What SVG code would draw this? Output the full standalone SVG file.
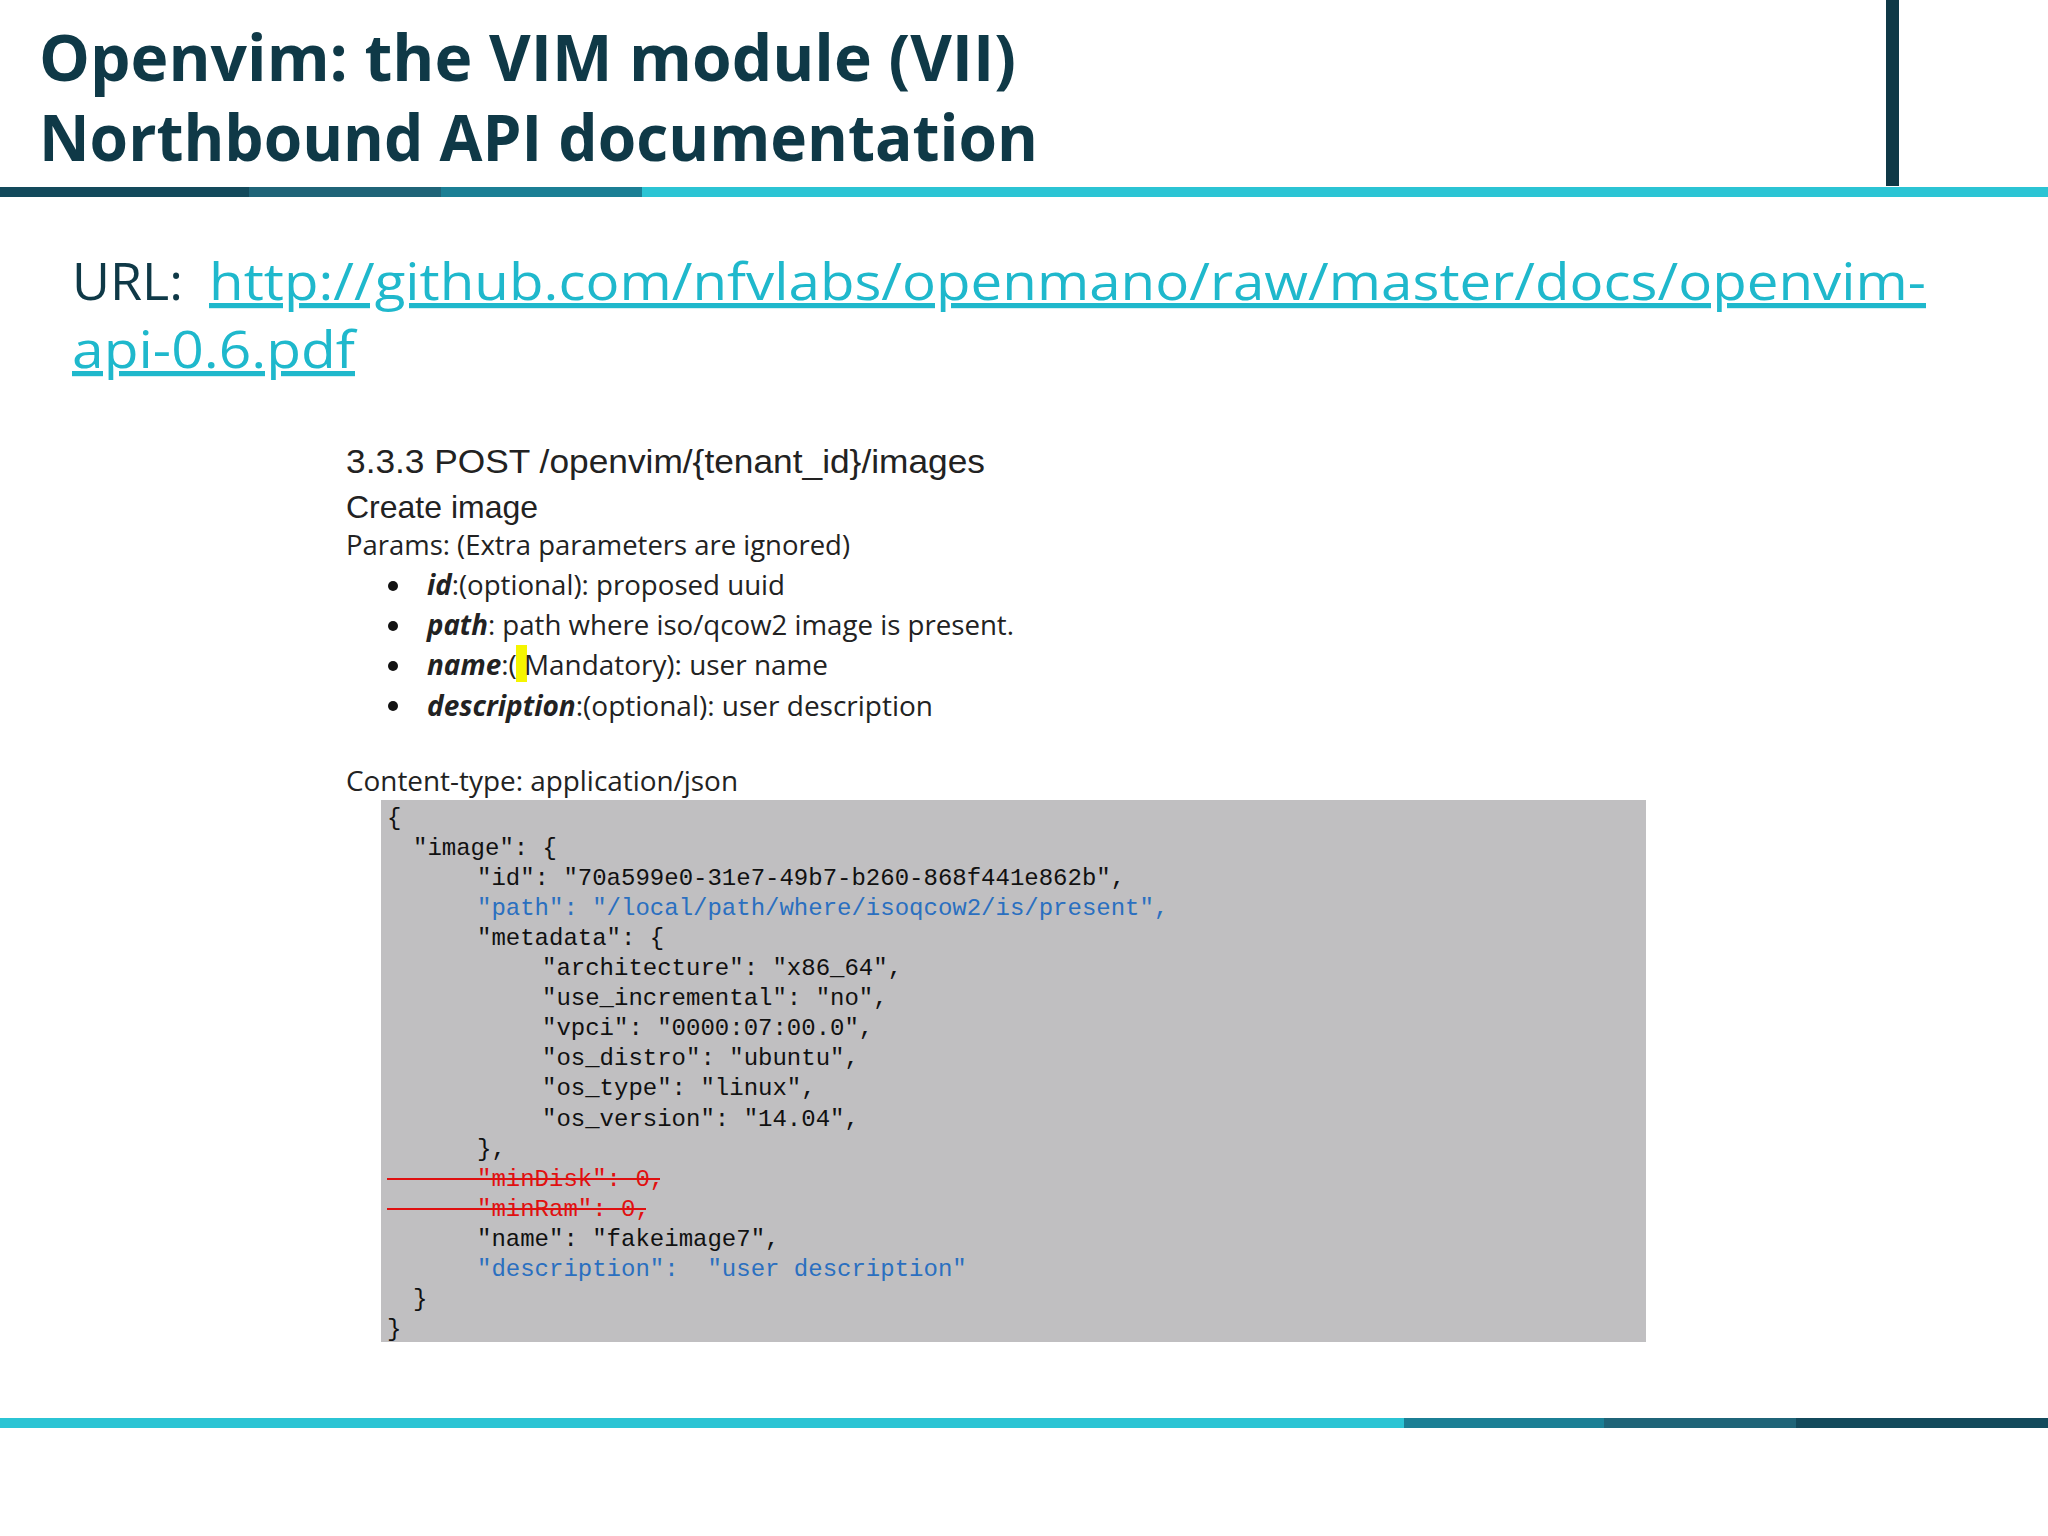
<svg xmlns="http://www.w3.org/2000/svg" width="2048" height="1536" viewBox="0 0 2048 1536">
<style>
.title{font-family:"Open Sans","DejaVu Sans",sans-serif;font-weight:bold;font-size:64px;fill:#0f3947}
.url{font-family:"Open Sans","DejaVu Sans",sans-serif;font-size:52px}
.doc{font-family:"Liberation Sans",Arial,sans-serif;fill:#222}
.cal{font-family:"Open Sans","Noto Sans",sans-serif;font-size:28px;fill:#222}
.code{font-family:"Liberation Mono","DejaVu Sans Mono",monospace;font-size:24px;fill:#111;white-space:pre}
.blue{fill:#2a6fc0}
.red{fill:#e01010}
</style>
<rect width="2048" height="1536" fill="#ffffff"/>
<g id="header">
<text class="title" x="39" y="81" textLength="977" lengthAdjust="spacingAndGlyphs">Openvim: the VIM module (VII)</text>
<text class="title" x="39" y="161" textLength="999" lengthAdjust="spacingAndGlyphs">Northbound API documentation</text>
<rect x="1886" y="0" width="13" height="186" fill="#0f3947"/>
<rect x="0" y="187" width="249" height="10" fill="#134a5c"/>
<rect x="249" y="187" width="192" height="10" fill="#1f6478"/>
<rect x="441" y="187" width="201" height="10" fill="#1b7f95"/>
<rect x="642" y="187" width="1406" height="10" fill="#2bc4d4"/>
</g>
<g id="url">
<text class="url" x="72" y="300" fill="#0f3947">URL:</text>
<text class="url" x="209" y="300" fill="#1fb8cc" text-decoration="underline" textLength="1717" lengthAdjust="spacingAndGlyphs">http://github.com/nfvlabs/openmano/raw/master/docs/openvim-</text>
<text class="url" x="72" y="368" fill="#1fb8cc" text-decoration="underline" textLength="283" lengthAdjust="spacingAndGlyphs">api-0.6.pdf</text>
</g>
<g id="doc">
<text class="doc" x="346" y="473" font-size="34" textLength="639" lengthAdjust="spacingAndGlyphs">3.3.3   POST /openvim/{tenant_id}/images</text>
<text class="doc" x="346" y="518" font-size="32">Create image</text>
<text class="cal" x="346" y="555" textLength="504" lengthAdjust="spacingAndGlyphs">Params: (Extra parameters are ignored)</text>
<g fill="#111"><circle cx="393" cy="586" r="5"/><circle cx="393" cy="626" r="5"/><circle cx="393" cy="666" r="5"/><circle cx="393" cy="706" r="5"/></g>
<rect x="516" y="645" width="11" height="37" fill="#f5f500"/>
<text class="cal" x="427" y="595" textLength="358" lengthAdjust="spacingAndGlyphs"><tspan font-weight="bold" font-style="italic">id</tspan>:(optional): proposed uuid</text>
<text class="cal" x="427" y="635" textLength="587" lengthAdjust="spacingAndGlyphs"><tspan font-weight="bold" font-style="italic">path</tspan>: path where iso/qcow2 image is present.</text>
<text class="cal" x="427" y="675" textLength="401" lengthAdjust="spacingAndGlyphs"><tspan font-weight="bold" font-style="italic">name</tspan>:( Mandatory): user name</text>
<text class="cal" x="427" y="716" textLength="506" lengthAdjust="spacingAndGlyphs"><tspan font-weight="bold" font-style="italic">description</tspan>:(optional):  user description</text>
<text class="cal" x="346" y="791" textLength="392" lengthAdjust="spacingAndGlyphs">Content-type: application/json</text>
</g>
<g id="code">
<rect x="381" y="800" width="1265" height="542" fill="#c0bfc1"/>
<text class="code" x="387" y="825">{</text>
<text class="code" x="413" y="855">"image": {</text>
<text class="code" x="477" y="885">"id": "70a599e0-31e7-49b7-b260-868f441e862b",</text>
<text class="code blue" x="477" y="915">"path": "/local/path/where/isoqcow2/is/present",</text>
<text class="code" x="477" y="945">"metadata": {</text>
<text class="code" x="542" y="975">"architecture": "x86_64",</text>
<text class="code" x="542" y="1005">"use_incremental": "no",</text>
<text class="code" x="542" y="1035">"vpci": "0000:07:00.0",</text>
<text class="code" x="542" y="1065">"os_distro": "ubuntu",</text>
<text class="code" x="542" y="1095">"os_type": "linux",</text>
<text class="code" x="542" y="1126">"os_version": "14.04",</text>
<text class="code" x="477" y="1156">},</text>
<text class="code red" x="477" y="1186">"minDisk": 0,</text>
<text class="code red" x="477" y="1216">"minRam": 0,</text>
<line x1="387" y1="1179" x2="660" y2="1179" stroke="#e01010" stroke-width="2"/>
<line x1="387" y1="1209" x2="646" y2="1209" stroke="#e01010" stroke-width="2"/>
<text class="code" x="477" y="1246">"name": "fakeimage7",</text>
<text class="code blue" x="477" y="1276">"description":  "user description"</text>
<text class="code" x="413" y="1306">}</text>
<text class="code" x="387" y="1336">}</text>
</g>
<g id="footer">
<rect x="0" y="1418" width="1404" height="10" fill="#2bc4d4"/>
<rect x="1404" y="1418" width="200" height="10" fill="#1b7f95"/>
<rect x="1604" y="1418" width="192" height="10" fill="#1f6478"/>
<rect x="1796" y="1418" width="252" height="10" fill="#134a5c"/>
</g>
</svg>
